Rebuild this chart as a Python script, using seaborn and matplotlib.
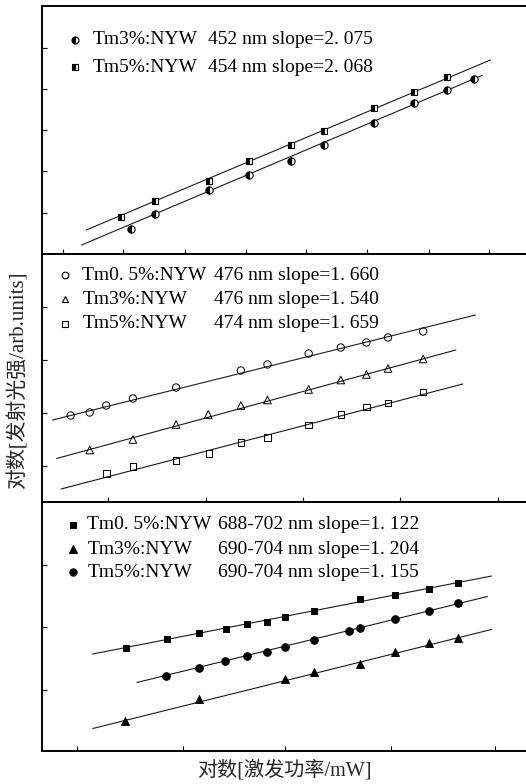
import matplotlib
matplotlib.use("Agg")
import matplotlib.pyplot as plt
import numpy as np
import pandas as pd
import seaborn as sns

# ---------------- data (log excitation power vs log emission, arbitrary units) -------------
# Panel A (blue emission)
a_tm3_x = [1.77, 2.25, 3.33, 4.13, 4.95, 5.61, 6.61, 7.41, 8.06, 8.61]
a_tm3_y = [0.50, 0.81, 1.29, 1.58, 1.87, 2.19, 2.63, 3.03, 3.27, 3.49]
a_tm3_fit_x = [0.79, 8.76]
a_tm3_fit_y = [0.18, 3.57]
a_tm5_x = [1.58, 2.25, 3.33, 4.13, 4.95, 5.61, 6.61, 7.41, 8.06]
a_tm5_y = [0.75, 1.07, 1.47, 1.87, 2.19, 2.46, 2.92, 3.23, 3.53]
a_tm5_fit_x = [0.88, 8.93]
a_tm5_fit_y = [0.48, 3.88]

# Panel B (476 nm)
b_tm05_x = [0.57, 0.95, 1.28, 1.81, 2.67, 3.96, 4.49, 5.31, 5.95, 6.46, 6.89, 7.59]
b_tm05_y = [1.73, 1.79, 1.93, 2.07, 2.29, 2.63, 2.75, 2.97, 3.09, 3.19, 3.29, 3.41]
b_tm05_fit_x = [0.21, 8.63]
b_tm05_fit_y = [1.64, 3.74]
b_tm3_x = [0.95, 1.81, 2.67, 3.31, 3.96, 4.49, 5.31, 5.95, 6.46, 6.89, 7.59]
b_tm3_y = [1.04, 1.25, 1.55, 1.75, 1.93, 2.04, 2.25, 2.44, 2.55, 2.67, 2.86]
b_tm3_fit_x = [0.29, 8.24]
b_tm3_fit_y = [0.87, 3.04]
b_tm5_x = [1.28, 1.81, 2.67, 3.33, 3.96, 4.49, 5.31, 5.95, 6.46, 6.89, 7.59]
b_tm5_y = [0.57, 0.71, 0.83, 0.97, 1.19, 1.29, 1.54, 1.75, 1.90, 1.98, 2.20]
b_tm5_fit_x = [0.38, 8.38]
b_tm5_fit_y = [0.26, 2.36]

# Panel C (red emission)
c_tm05_x = [1.67, 2.48, 3.13, 3.66, 4.08, 4.48, 4.84, 5.41, 6.33, 7.03, 7.71, 8.28]
c_tm05_y = [2.07, 2.25, 2.36, 2.45, 2.55, 2.59, 2.68, 2.81, 3.04, 3.13, 3.25, 3.37]
c_tm05_fit_x = [1.01, 8.95]
c_tm05_fit_y = [1.94, 3.50]
c_tm3_x = [1.66, 3.13, 4.84, 5.41, 6.33, 7.03, 7.71, 8.28]
c_tm3_y = [0.60, 1.05, 1.45, 1.58, 1.75, 1.99, 2.16, 2.27]
c_tm3_fit_x = [1.01, 8.95]
c_tm3_fit_y = [0.45, 2.43]
c_tm5_x = [2.46, 3.13, 3.65, 4.08, 4.48, 4.84, 5.41, 6.11, 6.33, 7.03, 7.71, 8.28]
c_tm5_y = [1.50, 1.67, 1.81, 1.91, 1.99, 2.09, 2.23, 2.40, 2.47, 2.65, 2.80, 2.97]
c_tm5_fit_x = [1.89, 8.87]
c_tm5_fit_y = [1.37, 3.09]

# legend texts
a_labels = ["Tm3%:NYW", "Tm5%:NYW"]
a_info = ["452 nm slope=2. 075", "454 nm slope=2. 068"]
b_labels = ["Tm0. 5%:NYW", "Tm3%:NYW", "Tm5%:NYW"]
b_info = ["476 nm slope=1. 660", "476 nm slope=1. 540", "474 nm slope=1. 659"]
c_labels = ["Tm0. 5%:NYW", "Tm3%:NYW", "Tm5%:NYW"]
c_info = ["688-702 nm slope=1. 122", "690-704 nm slope=1. 204", "690-704 nm slope=1. 155"]

x_label = "对数[激发功率/mW]"
y_label = "对数[发射光强/arb.units]"

# tick positions (unlabelled)
a_xticks = [0.42, 1.62, 2.84, 4.06, 5.26, 6.48, 7.70, 8.90]
a_yticks = [0.82, 1.66, 2.48, 3.30, 4.12]
b_xticks = [1.32, 3.26, 5.20, 7.12, 9.08]
b_yticks = [0.73, 1.79, 2.84, 3.91]
c_xticks = [0.70, 2.80, 4.84, 6.94, 9.02]
c_yticks = [1.23, 2.49, 3.72]

# ---------------- style ----------------
sns.set_style("ticks")
plt.rcParams["font.family"] = ["Liberation Serif", "Noto Sans CJK SC", "DejaVu Sans"]

fig = plt.figure(figsize=(5.26, 7.84), dpi=100)
L = 42 / 526
W = 1 - L + 0.004
ax_a = fig.add_axes([L, (784 - 254) / 784, W, 248 / 784])
ax_b = fig.add_axes([L, (784 - 502) / 784, W, 248 / 784])
ax_c = fig.add_axes([L, (784 - 751) / 784, W, 249 / 784])

LINE_KW = dict(color="#1a1a1a", linewidth=0.8, legend=False)


def fit_line(ax, fx, fy):
    sns.lineplot(x=fx, y=fy, ax=ax, zorder=1, **LINE_KW)


def half_points(ax, x, y, marker, ms):
    ax.plot(x, y, ls="none", marker=marker, ms=ms, fillstyle="left",
            markerfacecolor="black", markerfacecoloralt="white",
            markeredgecolor="black", mew=0.8, zorder=3)


def scat(ax, x, y, marker, s, filled):
    sns.scatterplot(x=x, y=y, ax=ax, marker=marker, s=s,
                    facecolor="black" if filled else "none",
                    edgecolor="black", linewidth=0.7, zorder=3, legend=False)


# Panel A
fit_line(ax_a, a_tm3_fit_x, a_tm3_fit_y)
fit_line(ax_a, a_tm5_fit_x, a_tm5_fit_y)
half_points(ax_a, a_tm3_x, a_tm3_y, "o", 5.2)
half_points(ax_a, a_tm5_x, a_tm5_y, "s", 4.6)

# Panel B
fit_line(ax_b, b_tm05_fit_x, b_tm05_fit_y)
fit_line(ax_b, b_tm3_fit_x, b_tm3_fit_y)
fit_line(ax_b, b_tm5_fit_x, b_tm5_fit_y)
scat(ax_b, b_tm05_x, b_tm05_y, "o", 28, False)
scat(ax_b, b_tm3_x, b_tm3_y, "^", 30, False)
scat(ax_b, b_tm5_x, b_tm5_y, "s", 22, False)

# Panel C
fit_line(ax_c, c_tm05_fit_x, c_tm05_fit_y)
fit_line(ax_c, c_tm3_fit_x, c_tm3_fit_y)
fit_line(ax_c, c_tm5_fit_x, c_tm5_fit_y)
scat(ax_c, c_tm05_x, c_tm05_y, "s", 24, True)
scat(ax_c, c_tm3_x, c_tm3_y, "^", 32, True)
scat(ax_c, c_tm5_x, c_tm5_y, "o", 30, True)

TXT = dict(fontsize=14, va="center", ha="left", color="black")


def legend_rows(ax, rows, mx, t1x, t2x, ys):
    for (mk, ms, fill, lab, info), yy in zip(rows, ys):
        kw = dict(ls="none", marker=mk, ms=ms, markeredgecolor="black", mew=0.8,
                  transform=ax.transAxes, clip_on=False)
        if fill == "half":
            kw.update(fillstyle="left", markerfacecolor="black", markerfacecoloralt="white")
        elif fill == "full":
            kw.update(markerfacecolor="black")
        else:
            kw.update(markerfacecolor="none")
        ax.plot([mx], [yy], **kw)
        ax.text(t1x, yy, lab, transform=ax.transAxes, **TXT)
        ax.text(t2x, yy, info, transform=ax.transAxes, **TXT)


legend_rows(ax_a,
            [("o", 5.0, "half", a_labels[0], a_info[0]),
             ("s", 4.4, "half", a_labels[1], a_info[1])],
            0.068, 0.105, 0.341, [0.863, 0.754])
legend_rows(ax_b,
            [("o", 4.8, "none", b_labels[0], b_info[0]),
             ("^", 5.0, "none", b_labels[1], b_info[1]),
             ("s", 4.4, "none", b_labels[2], b_info[2])],
            0.047, 0.083, 0.354, [0.915, 0.817, 0.718])
legend_rows(ax_c,
            [("s", 4.6, "full", c_labels[0], c_info[0]),
             ("^", 5.2, "full", c_labels[1], c_info[1]),
             ("o", 5.2, "full", c_labels[2], c_info[2])],
            0.064, 0.093, 0.362, [0.908, 0.810, 0.718])

for ax, xt, yt, ytop in [(ax_a, a_xticks, a_yticks, 4.96),
                         (ax_b, b_xticks, b_yticks, 4.96),
                         (ax_c, c_xticks, c_yticks, 4.98)]:
    ax.set_xlim(0, 9.68)
    ax.set_ylim(0, ytop)
    ax.set_xticks(xt)
    ax.set_yticks(yt)
    ax.tick_params(direction="in", length=3.5, width=0.8, color="black",
                   left=True, bottom=True, top=False, right=False,
                   labelleft=False, labelbottom=False)
    ax.set_xlabel("")
    ax.set_ylabel("")
    for side in ["left", "top", "bottom"]:
        ax.spines[side].set_linewidth(1.4)
        ax.spines[side].set_color("black")
    ax.spines["right"].set_visible(False)
    ax.set_facecolor("white")

fig.text(284 / 526, 1 - 770 / 784, x_label, ha="center", va="center", fontsize=14.5)
fig.text(18 / 526, 1 - 380 / 784, y_label, ha="center", va="center",
         rotation=90, fontsize=15)

fig.savefig("out.png", dpi=100, facecolor="white")
